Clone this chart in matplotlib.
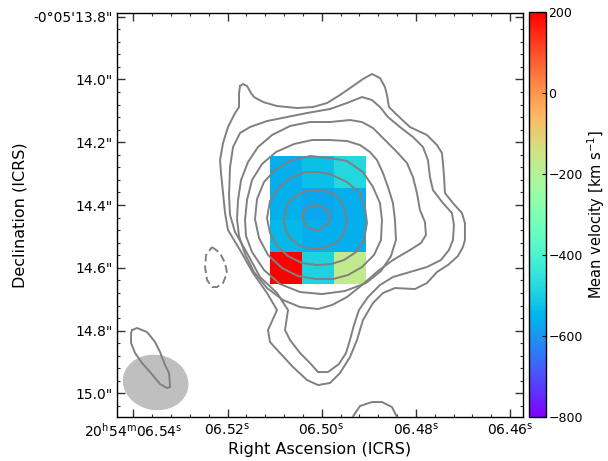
import numpy as np
import matplotlib
matplotlib.use('Agg')
import matplotlib.pyplot as plt
from matplotlib.patches import Ellipse
from matplotlib.ticker import FixedLocator, FixedFormatter

# mean velocity map (km/s), rows north -> south, columns east -> west
vel_map = [[-558, -530, -476],
           [-556, -570, -558],
           [-540, -558, -558],
           [200, -490, -175]]
# map edges as arcsec offsets from 20h54m06.50s -0d05m14.4s (east, west, south, north)
vel_extent = [0.165, -0.140, -0.250, 0.156]
vel_min, vel_max = -800, 200
cbar_ticks = [200, 0, -200, -400, -600, -800]

# continuum contours, vertices in continuum-map pixels (col, row)
cont_pix_scale = 1 / 314.0          # arcsec per pixel
cont_ref_pix = (321.7, 205.0)       # pixel at the reference position
cont_levels = [
    [(240, 86), (243, 84), (247, 86), (251, 93), (254, 97), (263, 102), (277, 106), (297, 108),
     (313, 107), (327, 103), (340, 95), (353, 86), (363, 79), (372, 74), (380, 78), (385, 87),
     (387, 95), (389, 107), (395, 113), (410, 127), (427, 135), (437, 145), (442, 153), (443, 163),
     (444, 175), (445, 193), (453, 203), (462, 213), (465, 223), (465, 240), (463, 247), (458, 256),
     (448, 265), (437, 272), (427, 283), (415, 289), (395, 288), (383, 293), (373, 303), (363, 320),
     (357, 340), (350, 357), (340, 373), (330, 383), (318, 385), (307, 380), (293, 367), (280, 353),
     (270, 342), (268, 330), (277, 310), (267, 293), (253, 273), (240, 250), (228, 230), (225, 213),
     (223, 193), (221, 173), (220, 160), (223, 143), (228, 127), (235, 113), (239, 107), (239, 93),
     (240, 86)],
    [(330, 109), (347, 103), (362, 97), (372, 100), (380, 107), (388, 117), (400, 127), (413, 137),
     (423, 147), (428, 160), (430, 177), (433, 190), (443, 203), (452, 213), (454, 225), (453, 240),
     (449, 250), (441, 260), (427, 267), (410, 272), (393, 277), (380, 285), (368, 297), (359, 310),
     (354, 325), (350, 340), (346, 353), (339, 364), (328, 372), (318, 372), (310, 363), (300, 353),
     (290, 340), (285, 330), (288, 310), (277, 293), (260, 277), (247, 253), (235, 232), (230, 215),
     (229, 195), (230, 167), (233, 147), (240, 133), (250, 127), (267, 121), (287, 117), (307, 113),
     (330, 109)],
    [(330, 122), (350, 120), (362, 122), (373, 128), (383, 138), (397, 152), (407, 163), (413, 177),
     (417, 193), (420, 210), (425, 222), (426, 235), (421, 243), (410, 250), (393, 260), (378, 271),
     (362, 285), (347, 297), (332, 305), (318, 309), (300, 307), (283, 300), (267, 288), (254, 272),
     (245, 254), (239, 236), (237, 219), (238, 200), (241, 180), (248, 162), (258, 147), (272, 135),
     (290, 126), (310, 122), (330, 122)],
    [(330, 140), (347, 141), (360, 145), (370, 152), (377, 160), (383, 173), (388, 187), (393, 203),
     (395, 220), (396, 240), (391, 256), (381, 271), (366, 283), (345, 291), (322, 294), (300, 292),
     (280, 284), (264, 270), (252, 252), (246, 236), (245, 220), (247, 200), (252, 180), (262, 164),
     (276, 152), (294, 144), (312, 140), (330, 140)],
    [(330, 158), (347, 161), (363, 172), (373, 187), (380, 203), (382, 220), (381, 240), (374, 255),
     (362, 267), (348, 275), (333, 279), (316, 279), (298, 276), (282, 268), (268, 255), (259, 238),
     (255, 219), (257, 199), (264, 182), (276, 169), (292, 160), (310, 156), (330, 158)],
    [(330, 174), (347, 182), (360, 193), (365, 207), (367, 223), (364, 240), (356, 252), (344, 260),
     (331, 264), (317, 265), (302, 263), (288, 256), (277, 246), (270, 233), (267, 218), (270, 201),
     (279, 187), (292, 177), (306, 172), (318, 172), (330, 174)],
    [(330, 192), (340, 199), (345, 210), (347, 221), (344, 234), (336, 243), (324, 248), (312, 249),
     (300, 246), (290, 238), (285, 229), (284, 219), (287, 205), (295, 196), (306, 191), (318, 190),
     (330, 192)],
    [(303, 212), (308, 207), (318, 205), (328, 210), (330, 222), (318, 231), (308, 228), (303, 220),
     (303, 212)],
]
cont_islands = [
    [(132, 330), (137, 328), (147, 332), (155, 342), (160, 352), (165, 365), (169, 373), (170, 387),
     (167, 388), (160, 384), (155, 378), (150, 372), (142, 363), (135, 353), (131, 343), (131, 333),
     (132, 330)],
    [(350, 425), (352, 418), (360, 406), (372, 402), (382, 402), (392, 407), (397, 417), (399, 425)],
]
cont_negative = [(212, 247), (220, 253), (225, 263), (227, 273), (223, 283), (217, 287), (212, 287),
                 (207, 280), (205, 267), (206, 255), (212, 247)]

# synthesized beam (arcsec, deg) and its centre offset
beam_major, beam_minor, beam_pa = 0.21, 0.176, 10
beam_centre = (0.529, -0.565)

ra_ticks_s = [6.54, 6.52, 6.50, 6.48, 6.46]
ra_labels = [r'$20^{\mathrm{h}}54^{\mathrm{m}}06.54^{\mathrm{s}}$', r'$06.52^{\mathrm{s}}$',
             r'$06.50^{\mathrm{s}}$', r'$06.48^{\mathrm{s}}$', r'$06.46^{\mathrm{s}}$']
dec_ticks_as = [13.8, 14.0, 14.2, 14.4, 14.6, 14.8, 15.0]
dec_labels = ['-0\u00b005\'13.8"', '14.0"', '14.2"', '14.4"', '14.6"', '14.8"', '15.0"']
ra0_s, dec0_as = 6.50, 14.4


def to_offset(pts):
    p = np.array(pts, dtype=float)
    x = (cont_ref_pix[0] - p[:, 0]) * cont_pix_scale
    y = (cont_ref_pix[1] - p[:, 1]) * cont_pix_scale
    return x, y


fig = plt.figure(figsize=(6.08, 4.61), dpi=100)
ax = fig.add_axes([0.192, 0.0948, 0.668, 0.8763])
cax = fig.add_axes([0.8706, 0.0948, 0.027, 0.8800])

im = ax.imshow(np.array(vel_map), cmap='rainbow', vmin=vel_min, vmax=vel_max,
               extent=vel_extent, origin='upper', interpolation='nearest', zorder=1)

beam = Ellipse(beam_centre, beam_major, beam_minor, angle=beam_pa,
               facecolor='#bfbfbf', edgecolor='none', zorder=2)
ax.add_patch(beam)

for lev in cont_levels + cont_islands:
    x, y = to_offset(lev)
    ax.plot(x, y, color='#808080', lw=1.4, zorder=3)
x, y = to_offset(cont_negative)
ax.plot(x, y, color='#808080', lw=1.4, ls=(0, (4, 2)), zorder=3)

ax.set_aspect('auto')
ax.set_xlim(0.653, -0.641)
ax.set_ylim(-0.676, 0.6105)

ra_pos = [(s - ra0_s) * 15 for s in ra_ticks_s]
ra_minor = [(ra0_s + k * 0.004 - ra0_s) * 15 for k in range(-12, 13)]
dec_pos = [dec0_as - d for d in dec_ticks_as]
dec_minor = [dec0_as - (13.76 + k * 0.04) for k in range(0, 35)]
ax.xaxis.set_major_locator(FixedLocator(ra_pos))
ax.xaxis.set_major_formatter(FixedFormatter(ra_labels))
ax.xaxis.set_minor_locator(FixedLocator(ra_minor))
ax.yaxis.set_major_locator(FixedLocator(dec_pos))
ax.yaxis.set_major_formatter(FixedFormatter(dec_labels))
ax.yaxis.set_minor_locator(FixedLocator(dec_minor))
ax.tick_params(which='both', direction='in', top=True, right=True, color='#333333')
ax.tick_params(which='major', length=6, width=1, labelsize=10, pad=3)
ax.tick_params(which='minor', length=2.5, width=0.8)
for sp in ax.spines.values():
    sp.set_linewidth(1.0)

ax.set_xlabel('Right Ascension (ICRS)', fontsize=11.5, labelpad=2)
ax.set_ylabel('Declination (ICRS)', fontsize=11.5, labelpad=4)

cbar = fig.colorbar(im, cax=cax, ticks=cbar_ticks)
cbar.ax.tick_params(direction='in', length=3, pad=2, labelsize=9)
cbar.set_label('Mean velocity [km s$^{-1}$]', fontsize=10.5, labelpad=2)
cbar.outline.set_linewidth(1.0)

fig.savefig('out.png', dpi=100)
